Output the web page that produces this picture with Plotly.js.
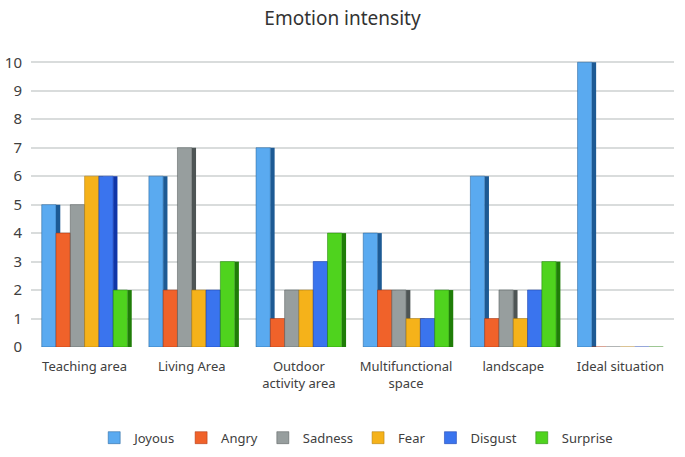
<!DOCTYPE html>
<html>
<head>
<meta charset="utf-8">
<script src="https://cdn.plot.ly/plotly-3.0.1.min.js"></script>
<style>
  body { margin: 0; background: #fff; }
  #chart { width: 685px; height: 457px; }
</style>
</head>
<body>
<div id="chart"></div>
<script>
const categories = ['Teaching area', 'Living Area', 'Outdoor<br>activity area', 'Multifunctional<br>space', 'landscape', 'Ideal situation'];

const joyous   = [5, 6, 7, 4, 6, 10];
const angry    = [4, 2, 1, 2, 1, 0];
const sadness  = [5, 7, 2, 2, 2, 0];
const fear     = [6, 2, 2, 1, 1, 0];
const disgust  = [6, 2, 3, 1, 2, 0];
const surprise = [2, 3, 4, 2, 3, 0];

const seriesNames = ['Joyous', 'Angry', 'Sadness', 'Fear', 'Disgust', 'Surprise'];
const seriesValues = [joyous, angry, sadness, fear, disgust, surprise];
const colors = ['#5aaaf0', '#f0622a', '#979e9e', '#f5b21a', '#3a74ee', '#4fd31e'];
const darkColors = ['#1d5a94', '#a8300c', '#4e5555', '#a8760a', '#0f35a8', '#1f7d08'];

const groupWidth = 0.8;
const barW = groupWidth / seriesNames.length;

// dark side faces first, so the next bar covers them (fake 3D look)
const shadows = seriesValues.map((vals, i) => ({
    type: 'bar',
    x: categories,
    y: vals,
    width: 0.04,
    offset: -groupWidth / 2 + (i + 1) * barW,
    marker: { color: darkColors[i] },
    showlegend: false,
    hoverinfo: 'skip'
}));

const bars = seriesValues.map((vals, i) => ({
    type: 'bar',
    x: categories,
    y: vals,
    name: seriesNames[i],
    width: barW,
    offset: -groupWidth / 2 + i * barW,
    marker: { color: colors[i], line: { color: darkColors[i], width: 0.5 } }
}));

const layout = {
    width: 685,
    height: 457,
    margin: { l: 31, r: 11, t: 58, b: 110 },
    paper_bgcolor: '#ffffff',
    plot_bgcolor: '#ffffff',
    barmode: 'overlay',
    font: { family: 'Noto Sans, DejaVu Sans, sans-serif', color: '#404040', size: 13 },
    title: {
        text: 'Emotion intensity',
        x: 0.5,
        xanchor: 'center',
        y: 0.975,
        yanchor: 'top',
        font: { size: 19, color: '#333333' }
    },
    xaxis: {
        showgrid: false,
        zeroline: false,
        showline: false,
        ticks: '',
        ticklabelstandoff: 10,
        automargin: false,
        tickfont: { size: 13, color: '#404040' }
    },
    yaxis: {
        range: [0, 10.15],
        dtick: 1,
        showgrid: true,
        gridcolor: '#d9dcdc',
        gridwidth: 1.5,
        zeroline: false,
        showline: false,
        ticks: '',
        ticklabelstandoff: 8,
        automargin: false,
        tickfont: { size: 15, color: '#404040' }
    },
    legend: {
        orientation: 'h',
        xref: 'container',
        yref: 'container',
        x: 0.52,
        xanchor: 'center',
        y: 0.075,
        yanchor: 'top',
        font: { size: 13, color: '#404040' },
        itemwidth: 30,
        tracegroupgap: 0
    }
};

Plotly.newPlot('chart', shadows.concat(bars), layout, { displayModeBar: false });
</script>
</body>
</html>
